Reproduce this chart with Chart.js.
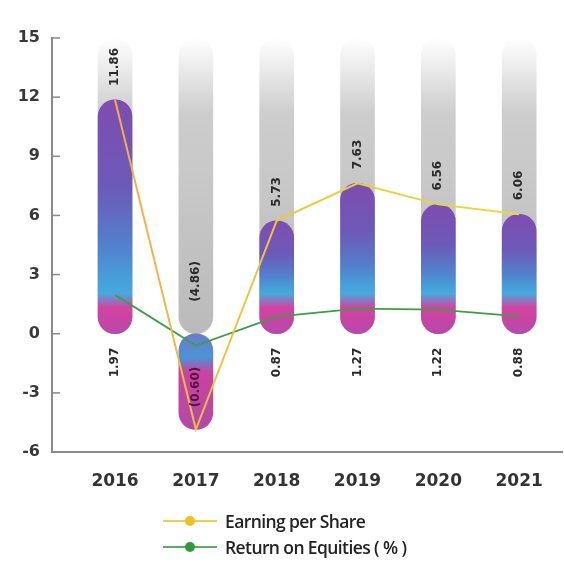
<!DOCTYPE html>
<html>
<head>
<meta charset="utf-8">
<script src="https://cdn.jsdelivr.net/npm/chart.js@4"></script>
<style>
  html, body { margin: 0; padding: 0; background: #fff; }
  #wrap { position: relative; width: 564px; height: 564px; }
  #legend { position: absolute; left: 163px; top: 508px; font-family: 'Open Sans', sans-serif; font-size: 17.5px; font-weight: 600; color: #222; letter-spacing: -0.6px; }
  .item { display: flex; align-items: center; height: 26px; }
  .mark { position: relative; width: 54px; height: 12px; margin-right: 8px; }
  .mark .ln { position: absolute; left: 0; right: 0; top: 5px; height: 2px; opacity: 0.8; }
  .mark .dot { position: absolute; left: 22px; top: 1px; width: 10px; height: 10px; border-radius: 50%; }
</style>
</head>
<body>
<div id="wrap">
  <canvas id="finChart" width="564" height="564"></canvas>
  <div id="legend"></div>
</div>
<script>
const years = [2016, 2017, 2018, 2019, 2020, 2021];
const eps = [11.86, -4.86, 5.73, 7.63, 6.56, 6.06];
const roe = [1.97, -0.60, 0.87, 1.27, 1.22, 0.88];
const yMin = -6, yMax = 15, yStep = 3;

const fmt = v => v < 0 ? '(' + Math.abs(v).toFixed(2) + ')' : v.toFixed(2);

// capsule fill: purple on top, blue in the middle, pink at the base
function barFill(context) {
    const chart = context.chart;
    if (!chart.chartArea) return '#6a6ac8';
    const v = context.raw.y;
    const y = chart.scales.y;
    const top = y.getPixelForValue(Math.max(v, 0));
    const bot = y.getPixelForValue(Math.min(v, 0));
    const h = Math.max(bot - top, 1);
    const g = chart.ctx.createLinearGradient(0, top, 0, bot);
    if (v < 0) {
        g.addColorStop(0, '#6c7cc6');
        g.addColorStop(0.25, '#4b93d6');
        g.addColorStop(0.4, '#c8449f');
        g.addColorStop(1, '#b04aa6');
        return g;
    }
    const pink = Math.max(0.05, 1 - 40 / h);
    g.addColorStop(0, '#7f4cb0');
    g.addColorStop(pink * 0.45, '#6c5ab8');
    g.addColorStop(pink * 0.75, '#5280cc');
    g.addColorStop(pink * 0.95, '#44a4dc');
    g.addColorStop(pink, '#4aa8dc');
    g.addColorStop(pink + (1 - pink) * 0.35, '#d4429f');
    g.addColorStop(1, '#b649ad');
    return g;
}

// grey track behind each capsule, fading out at the top
function trackFill(context) {
    const chart = context.chart;
    const a = chart.chartArea;
    if (!a) return '#c8c8c8';
    const g = chart.ctx.createLinearGradient(0, a.top, 0, chart.scales.y.getPixelForValue(0));
    g.addColorStop(0, 'rgba(200,200,200,0)');
    g.addColorStop(0.25, 'rgba(200,200,200,0.9)');
    g.addColorStop(1, '#bababa');
    return g;
}

function epsStroke(context) {
    const a = context.chart.chartArea;
    if (!a) return '#f0c040';
    const g = context.chart.ctx.createLinearGradient(a.left, 0, a.right, 0);
    g.addColorStop(0, '#f3a04c');
    g.addColorStop(0.3, '#f0c040');
    g.addColorStop(1, '#e6df3c');
    return g;
}

const valueLabels = {
    id: 'valueLabels',
    afterDatasetsDraw(chart) {
        const c = chart.ctx, x = chart.scales.x, y = chart.scales.y;
        const zero = y.getPixelForValue(0);
        c.save();
        c.font = 'bold 12px "DejaVu Sans", sans-serif';
        c.textBaseline = 'middle';
        years.forEach((yr, i) => {
            const px = x.getPixelForValue(yr);
            // EPS above the capsule
            const tp = y.getPixelForValue(Math.max(eps[i], 0)) - (eps[i] < 0 ? 32 : 14);
            c.save();
            c.translate(px, tp);
            c.rotate(-Math.PI / 2);
            c.textAlign = 'left';
            c.fillStyle = '#2a2a2a';
            c.fillText(fmt(eps[i]), 0, 0);
            c.restore();
            // ROE below the zero line
            const bp = zero + (eps[i] < 0 ? 33 : 14);
            c.save();
            c.translate(px, bp);
            c.rotate(-Math.PI / 2);
            c.textAlign = 'right';
            c.fillStyle = eps[i] < 0 ? '#5a1040' : '#2a2a2a';
            c.fillText(fmt(roe[i]), 0, 0);
            c.restore();
        });
        c.restore();
    }
};

// short tick dashes on the inner side of the y axis
const yTickMarks = {
    id: 'yTickMarks',
    afterDraw(chart) {
        const y = chart.scales.y, c = chart.ctx, left = chart.chartArea.left;
        c.save();
        c.strokeStyle = '#8a8a8a';
        c.lineWidth = 1.5;
        y.ticks.forEach((t, i) => {
            const p = y.getPixelForTick(i);
            c.beginPath();
            c.moveTo(left, p);
            c.lineTo(left + 8, p);
            c.stroke();
        });
        c.restore();
    }
};

const ctx = document.getElementById('finChart').getContext('2d');

const finChart = new Chart(ctx, {
    type: 'bar',
    data: {
        datasets: [
            {
                type: 'line',
                label: 'Earning per Share',
                data: years.map((x, i) => ({ x, y: eps[i] })),
                borderColor: epsStroke,
                legendColor: '#f0c020',
                borderWidth: 2,
                pointRadius: 0,
                tension: 0,
                order: 0
            },
            {
                type: 'line',
                label: 'Return on Equities ( % )',
                data: years.map((x, i) => ({ x, y: roe[i] })),
                borderColor: '#3e9d4a',
                legendColor: '#2e9a3c',
                borderWidth: 1.8,
                pointRadius: 0,
                tension: 0,
                order: 0
            },
            {
                label: 'eps-bar',
                data: years.map((x, i) => ({ x, y: eps[i] })),
                backgroundColor: barFill,
                barThickness: 34,
                borderRadius: 17,
                borderSkipped: false,
                grouped: false,
                order: 1
            },
            {
                label: 'track',
                data: years.map(x => ({ x, y: yMax })),
                backgroundColor: trackFill,
                barThickness: 34,
                borderRadius: 17,
                borderSkipped: false,
                grouped: false,
                order: 2
            }
        ]
    },
    options: {
        responsive: false,
        animation: false,
        layout: { padding: { top: 38, right: 2, bottom: 72, left: 0 } },
        plugins: {
            legend: { display: false },
            tooltip: { enabled: false }
        },
        scales: {
            x: {
                type: 'linear',
                offset: false,
                min: 2015.22,
                max: 2021.53,
                afterBuildTicks: s => { s.ticks = years.map(v => ({ value: v })); },
                afterFit: s => { s.height = 40; },
                ticks: {
                    callback: v => String(v),
                    color: '#333',
                    padding: 11,
                    maxRotation: 0,
                    font: { family: '"DejaVu Sans", sans-serif', size: 17, weight: 'bold' }
                },
                grid: { display: false },
                border: { display: true, color: '#8a8a8a', width: 2 }
            },
            y: {
                min: yMin,
                max: yMax,
                afterFit: s => { s.width = 52; },
                ticks: {
                    stepSize: yStep,
                    color: '#383838',
                    padding: 12,
                    font: { family: '"DejaVu Sans", sans-serif', size: 16, weight: 'bold' }
                },
                grid: { display: false, drawTicks: false },
                border: { display: true, color: '#8a8a8a', width: 2 }
            }
        }
    },
    plugins: [valueLabels, yTickMarks]
});

// legend for the two line series
const legend = document.getElementById('legend');
finChart.data.datasets.filter(d => d.type === 'line').forEach(d => {
    legend.innerHTML += `
        <div class="item">
            <span class="mark"><span class="ln" style="background:${d.legendColor}"></span><span class="dot" style="background:${d.legendColor}"></span></span>
            <span>${d.label}</span>
        </div>`;
});
</script>
</body>
</html>
